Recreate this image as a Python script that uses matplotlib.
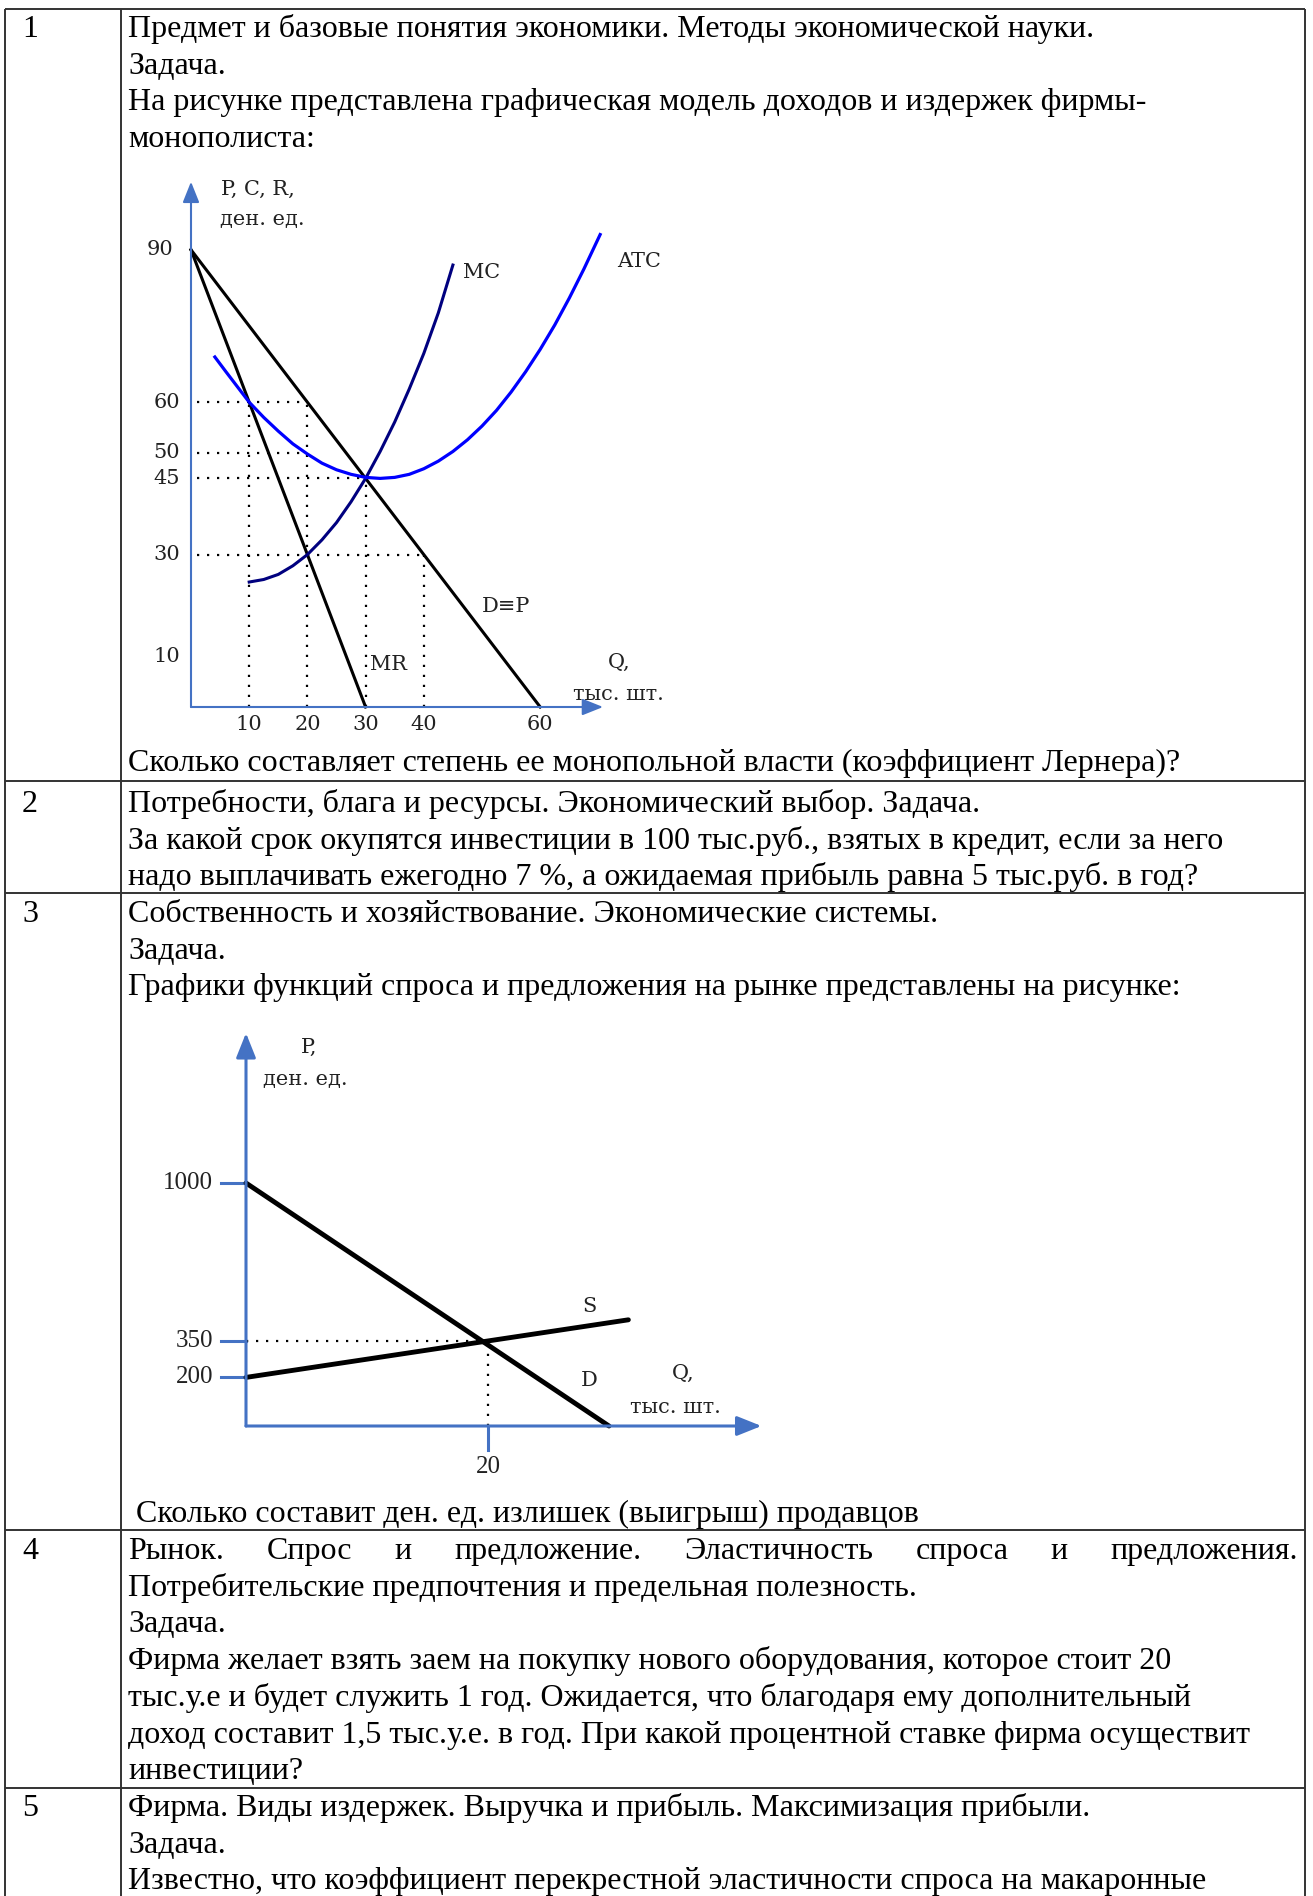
import matplotlib
matplotlib.use('Agg')
import matplotlib.pyplot as plt

# Page size in pixels (dpi = 100)
W, H = 1313, 1896
plt.rcParams['font.family'] = ['Liberation Serif', 'DejaVu Serif']

# ---- table text ----
row_numbers = ['1', '2', '3', '4', '5']
row1_head = [
    'Предмет и базовые понятия экономики. Методы экономической науки.',
    'Задача.',
    'На рисунке представлена графическая модель доходов и издержек фирмы-',
    'монополиста:',
]
row1_question = 'Сколько составляет степень ее монопольной власти (коэффициент Лернера)?'
row2_lines = [
    'Потребности, блага и ресурсы. Экономический выбор. Задача.',
    'За какой срок окупятся инвестиции в 100 тыс.руб., взятых в кредит, если за него',
    'надо выплачивать ежегодно 7 %, а ожидаемая прибыль равна 5 тыс.руб. в год?',
]
row3_head = [
    'Собственность и хозяйствование. Экономические системы.',
    'Задача.',
    'Графики функций спроса и предложения на рынке представлены на рисунке:',
]
row3_question = 'Сколько составит ден. ед. излишек (выигрыш) продавцов'
row4_justified = 'Рынок. Спрос и предложение. Эластичность спроса и предложения.'
row4_lines = [
    'Потребительские предпочтения и предельная полезность.',
    'Задача.',
    'Фирма желает взять заем на покупку нового оборудования, которое стоит 20',
    'тыс.у.е и будет служить 1 год. Ожидается, что благодаря ему дополнительный',
    'доход составит 1,5 тыс.у.е. в год. При какой процентной ставке фирма осуществит',
    'инвестиции?',
]
row5_lines = [
    'Фирма. Виды издержек. Выручка и прибыль. Максимизация прибыли.',
    'Задача.',
    'Известно, что коэффициент перекрестной эластичности спроса на макаронные',
]

# ---- chart 1: monopoly (Q, тыс. шт. / P, ден. ед.) ----
q_ticks_1 = [10, 20, 30, 40, 60]
p_ticks_1 = [90, 60, 50, 45, 30, 10]
demand_q = [0, 60]
demand_p = [90, 0]
mr_q = [0, 30]
mr_p = [90, 0]
mc_q = [10, 12.5, 15, 17.5, 20, 22.5, 25, 27.5, 30, 32.5, 35, 37.5, 40, 42.5, 45]
mc_p = [24.6, 25.1, 26.1, 27.8, 30, 32.9, 36.3, 40.4, 45, 50.3, 56.1, 62.6, 69.6, 77.6, 87]
atc_q = [4.1, 6, 8, 10, 12.5, 15, 17.5, 20, 22.5, 25, 27.5, 30, 32.5, 35,
         37.5, 40, 42.5, 45, 47.5, 50, 52.5, 55, 57.5, 60, 62.5, 65, 67.5, 70.3]
atc_p = [68.9, 66, 63, 60, 57, 54.3, 51.8, 49.8, 48, 46.7, 45.8, 45.2, 45, 45.2,
         45.8, 46.9, 48.4, 50.3, 52.6, 55.3, 58.4, 62, 66, 70.4, 75.2, 80.5, 86.2, 93]
# dotted guides: horizontal (price, up to q) and vertical (q, up to price)
guide_h_p = [60, 50, 45, 30]
guide_h_q = [20, 20, 30, 40]
guide_v_q = [10, 20, 30, 40]
guide_v_p = [60, 60, 45, 30]

# ---- chart 2: supply and demand ----
p_ticks_2 = [1000, 350, 200]
q_ticks_2 = [20]
demand2_q = [0, 30]
demand2_p = [1000, 0]
supply2_q = [0, 31.6]
supply2_p = [200, 437]
eq_q, eq_p = 20, 350

fig = plt.figure(figsize=(W / 100, H / 100), dpi=100)
page = fig.add_axes([0, 0, 1, 1])
page.set_xlim(0, W)
page.set_ylim(H, 0)
page.axis('off')

FS = 23
TX = 128
LINE = 36.7


def line_text(y, s, x=TX, **kw):
    # y is the visual centre of the line in pixels
    page.text(x, y + 9, s, fontsize=FS, va='baseline', ha='left', **kw)


def block(y0, lines):
    for i, s in enumerate(lines):
        line_text(y0 + i * LINE, s)


# table borders
border = dict(color='#333333', lw=1.4, solid_capstyle='butt')
for xv in [5, 121, 1305]:
    page.plot([xv, xv], [9, H], **border)
for yv in [9, 781, 893, 1530, 1788]:
    page.plot([5, 1305], [yv, yv], **border)

# row numbers
for num, y in zip(row_numbers, [28, 803, 913, 1550, 1807]):
    line_text(y, num, x=22)

block(28, row1_head)
line_text(762, row1_question)
block(803, row2_lines)
block(913, row3_head)
line_text(1513, row3_question, x=136)

# justified first line of row 4
renderer = fig.canvas.get_renderer()
words = row4_justified.split()
widths = []
for w in words:
    t = page.text(0, 0, w, fontsize=FS)
    widths.append(t.get_window_extent(renderer).width)
    t.remove()
gap = (1298 - TX - sum(widths)) / (len(words) - 1)
x = TX
for w, wd in zip(words, widths):
    line_text(1550, w, x=x)
    x += wd + gap
block(1550 + LINE, row4_lines)
block(1807, row5_lines)


def px_axes(x0, y0, x1, y1, ox, oy, sx, sy):
    ax = fig.add_axes([x0 / W, 1 - y1 / H, (x1 - x0) / W, (y1 - y0) / H])
    ax.set_xlim((x0 - ox) / sx, (x1 - ox) / sx)
    ax.set_ylim((oy - y1) / sy, (oy - y0) / sy)
    ax.axis('off')
    return ax


AXIS_BLUE = '#4472C4'
LBL = dict(family='DejaVu Serif', fontsize=15, color='#222222')
arrow_1 = dict(arrowstyle='-|>,head_length=0.7,head_width=0.28',
               color=AXIS_BLUE, lw=1.5, mutation_scale=18, shrinkA=0, shrinkB=0)
arrow_2 = dict(arrowstyle='-|>,head_length=0.75,head_width=0.3',
               color=AXIS_BLUE, lw=2.2, mutation_scale=20, shrinkA=0, shrinkB=0)

# ---------- chart 1 ----------
ax1 = px_axes(140, 170, 720, 745, 191, 707, 5.82, 5.08)
ax1.annotate('', xy=(70.8, 0), xytext=(0, 0), arrowprops=arrow_1)
ax1.annotate('', xy=(0, 103.4), xytext=(0, 0), arrowprops=arrow_1)
dots = dict(color='black', lw=1.6, linestyle=(0, (1, 3.5)))
for p, q in zip(guide_h_p, guide_h_q):
    ax1.plot([1, q], [p, p], **dots)
for q, p in zip(guide_v_q, guide_v_p):
    ax1.plot([q, q], [0, p], **dots)
ax1.plot(demand_q, demand_p, color='black', lw=2.2)
ax1.plot(mr_q, mr_p, color='black', lw=2.2)
ax1.plot(mc_q, mc_p, color='#00007F', lw=2.2)
ax1.plot(atc_q, atc_p, color='#0000FF', lw=2.3)

for p in p_ticks_1:
    ax1.text(-3.1 if p == 90 else -1.9, p, str(p), ha='right', va='center', **LBL)
for q in q_ticks_1:
    ax1.text(q, -3.5, str(q), ha='center', va='center', **LBL)
ax1.text(5.1, 101.8, 'P, C, R,', ha='left', va='center', **LBL)
ax1.text(5.0, 95.9, 'ден. ед.', ha='left', va='center', **LBL)
ax1.text(46.7, 85.6, 'MC', ha='left', va='center', **LBL)
ax1.text(73.2, 87.6, 'ATC', ha='left', va='center', **LBL)
ax1.text(50.0, 19.7, 'D≡P', ha='left', va='center', **LBL)
ax1.text(30.8, 8.3, 'MR', ha='left', va='center', **LBL)
ax1.text(71.6, 8.7, 'Q,', ha='left', va='center', **LBL)
ax1.text(65.6, 2.4, 'тыс. шт.', ha='left', va='center', **LBL)

# ---------- chart 2 ----------
ax2 = px_axes(150, 1010, 800, 1490, 246, 1426, 12.1, 0.243)
ax2.annotate('', xy=(42.6, 0), xytext=(0, 0), arrowprops=arrow_2)
ax2.annotate('', xy=(0, 1617), xytext=(0, 0), arrowprops=arrow_2)
for p in p_ticks_2:
    ax2.plot([-2.07, 0], [p, p], color=AXIS_BLUE, lw=2.2)
    ax2.text(-2.73, p, str(p), ha='right', va='center',
             family='Liberation Serif', fontsize=18, color='#222222')
for q in q_ticks_2:
    ax2.plot([q, q], [0, -99], color=AXIS_BLUE, lw=2.2)
    ax2.text(q, -169, str(q), ha='center', va='center',
             family='Liberation Serif', fontsize=18, color='#222222')
ax2.plot([0, eq_q], [eq_p, eq_p], **dots)
ax2.plot([eq_q, eq_q], [0, eq_p], **dots)
ax2.plot(demand2_q, demand2_p, color='black', lw=3.5, solid_capstyle='round')
ax2.plot(supply2_q, supply2_p, color='black', lw=3.5, solid_capstyle='round')
ax2.text(4.55, 1560, 'P,', ha='left', va='center', **LBL)
ax2.text(1.4, 1424, 'ден. ед.', ha='left', va='center', **LBL)
ax2.text(28.4, 490, 'S', ha='center', va='center', **LBL)
ax2.text(28.4, 189, 'D', ha='center', va='center', **LBL)
ax2.text(35.2, 218, 'Q,', ha='left', va='center', **LBL)
ax2.text(31.7, 78, 'тыс. шт.', ha='left', va='center', **LBL)

fig.savefig('out.png', dpi=100, facecolor='white')
